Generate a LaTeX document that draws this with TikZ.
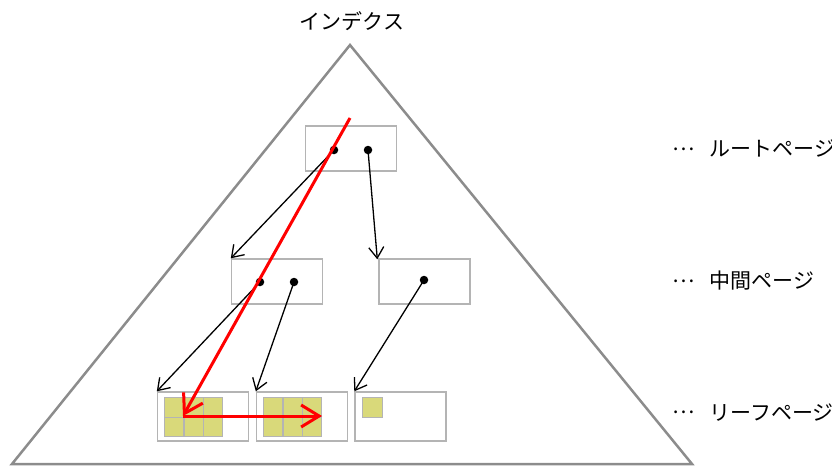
\documentclass[tikz,border=0pt]{standalone}
\usepackage{fontspec}
\setmainfont{Noto Sans CJK JP}
\usetikzlibrary{arrows.meta}
\definecolor{framegray}{RGB}{140,140,140}
\definecolor{boxgray}{RGB}{180,180,180}
\definecolor{cellfill}{RGB}{217,217,122}
\newcommand{\middots}{\raisebox{0.33em}{…}\hspace{15pt}}
\tikzset{
  page/.style={draw=boxgray, line width=1.4pt, minimum width=91pt, minimum height=45pt, inner sep=0pt, fill=white},
  cellbox/.style={draw=boxgray, line width=1.2pt, fill=cellfill, minimum width=19.3pt, minimum height=19.5pt, inner sep=0pt},
  ptr/.style={-{Straight Barb[length=11pt,width=15pt,line width=1.3pt]}, line width=1.3pt, black},
  redarrow/.style={-{Straight Barb[length=18pt,width=22pt,line width=3pt]}, line width=3pt, red},
  dot/.style={circle, fill=black, inner sep=0pt, minimum size=8.5pt},
  lbl/.style={font=\fontsize{21pt}{24pt}\selectfont, inner sep=0pt, anchor=west},
}
\begin{document}
\begin{tikzpicture}[x=1pt,y=-1pt]
\useasboundingbox (0,0) rectangle (832,466);
% triangle
\draw[framegray, line width=2.5pt, line join=miter] (12,464) -- (350,45) -- (692,464) -- cycle;
\node[font=\fontsize{21pt}{24pt}\selectfont] (title) at (352,21) {インデクス};
% pages
\node[page] (root) at (351,148.5) {};
\node[page] (m1) at (277,281.5) {};
\node[page] (m2) at (424.5,281.5) {};
\node[page, minimum width=91pt, minimum height=49pt] (l1) at (203,416.5) {};
\node[page, minimum width=91pt, minimum height=49pt] (l2) at (302,416.5) {};
\node[page, minimum width=91pt, minimum height=49pt] (l3) at (400.5,416.5) {};
% cells
\foreach \n/\x in {l1/164, l2/263}{
  \foreach \i in {0,1,2}{
    \foreach \j in {0,1}{
      \node[cellbox, anchor=north west] (\n c\i\j) at (\x+19.3*\i, 397+19.5*\j) {};
    }
  }
}
\node[cellbox, anchor=north west, minimum width=20pt, minimum height=20pt] (l3c) at (362,397) {};
% dots
\node[dot] (r1) at (334,150) {};
\node[dot] (r2) at (368,150) {};
\node[dot] (a1) at (260,282) {};
\node[dot] (a2) at (294,282) {};
\node[dot] (b1) at (424,280) {};
% pointers
\draw[ptr] (r1.center) -- (m1.north west);
\draw[ptr] (r2.center) -- ([xshift=-1pt,yshift=-1pt]m2.north west);
\draw[ptr] (a1.center) -- (l1.north west);
\draw[ptr] (a2.center) -- (l2.north west);
\draw[ptr] (b1.center) -- (l3.north west);
% red path
\coordinate (rs) at (350,118);
\coordinate (rk) at (183,416);
\coordinate (re) at (322,416);
\draw[redarrow] (rs) -- (rk);
\draw[redarrow] (rk) -- (re);
% labels
\node[lbl] (t1) at (672,149) {\middots ルートページ};
\node[lbl] (t2) at (672,281) {\middots 中間ページ};
\node[lbl] (t3) at (672,413) {\middots リーフページ};
\end{tikzpicture}
\end{document}
